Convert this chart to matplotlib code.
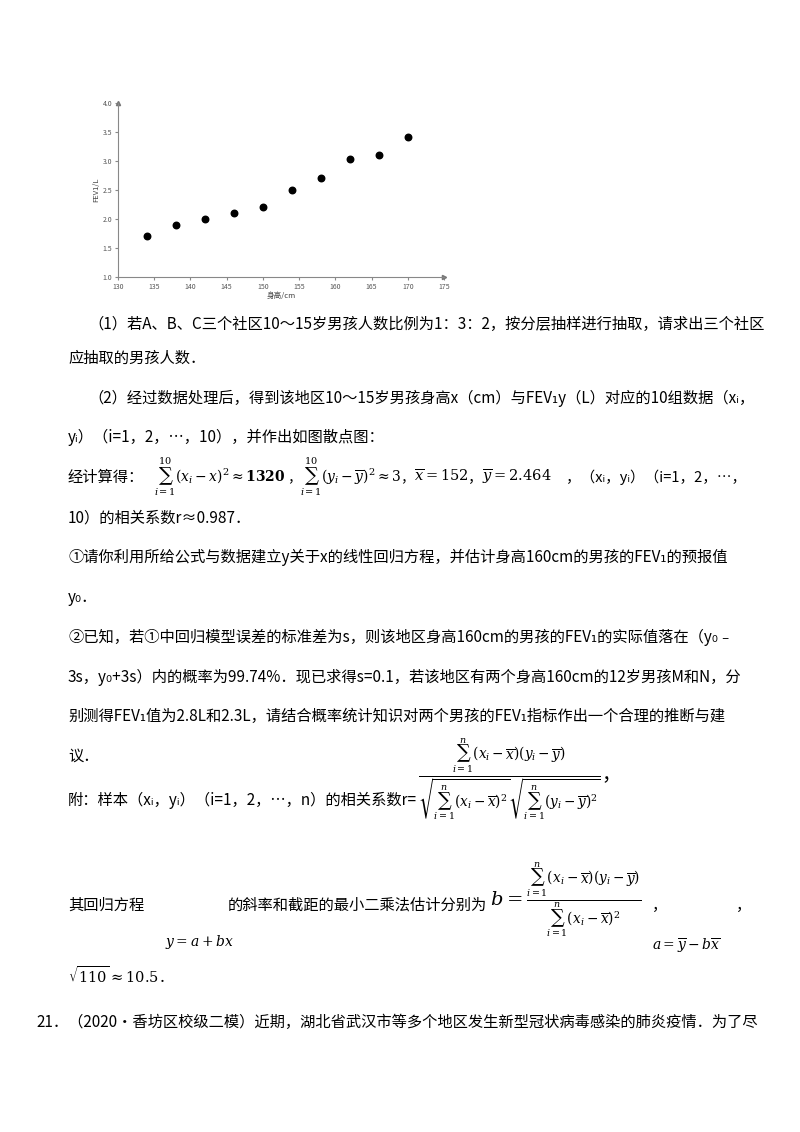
import matplotlib
matplotlib.use('Agg')
import matplotlib.pyplot as plt

plt.rcParams['font.family'] = ['Noto Sans CJK SC', 'DejaVu Sans']
plt.rcParams['mathtext.fontset'] = 'dejavuserif'

# 散点数据
heights = [134, 138, 142, 146, 150, 154, 158, 162, 166, 170]
fev1 = [1.7, 1.9, 2.0, 2.1, 2.2, 2.5, 2.7, 3.03, 3.1, 3.41]
x_ticks = [130, 135, 140, 145, 150, 155, 160, 165, 170, 175]
y_ticks = [1.0, 1.5, 2.0, 2.5, 3.0, 3.5, 4.0]

W, H = 800, 1132
fig = plt.figure(figsize=(W / 100, H / 100), dpi=100)
fig.patch.set_facecolor('white')

ax = fig.add_axes([118 / W, 1 - 277 / H, 326 / W, 174 / H])
ax.scatter(heights, fev1, s=22, color='black', zorder=3)
ax.set_xlim(130, 175)
ax.set_ylim(1.0, 4.0)
ax.set_xticks(x_ticks)
ax.set_yticks(y_ticks)
ax.set_xticklabels([str(v) for v in x_ticks], fontsize=5, color='#555555')
ax.set_yticklabels([f'{v:.1f}' for v in y_ticks], fontsize=5, color='#555555')
ax.tick_params(length=2, color='#888888', pad=2)
for s in ('top', 'right'):
    ax.spines[s].set_visible(False)
for s in ('left', 'bottom'):
    ax.spines[s].set_color('#888888')
ax.plot(1, 0, '>', color='#777777', ms=3, transform=ax.transAxes, clip_on=False)
ax.plot(0, 1, '^', color='#777777', ms=3, transform=ax.transAxes, clip_on=False)
ax.set_xlabel('身高/cm', fontsize=5.5, color='#444444', labelpad=1)
ax.set_ylabel('FEV1/L', fontsize=5.5, color='#444444', labelpad=2)

FS = 11


def t(x, y, s, size=FS, **kw):
    fig.text(x / W, 1 - y / H, s, fontsize=size, va='center', ha='left', **kw)


t(88, 324, '（1）若A、B、C三个社区10～15岁男孩人数比例为1：3：2，按分层抽样进行抽取，请求出三个社区')
t(68, 358, '应抽取的男孩人数．')
t(88, 398, '（2）经过数据处理后，得到该地区10～15岁男孩身高x（cm）与FEV₁y（L）对应的10组数据（xᵢ，')
t(68, 437, 'yᵢ）（i=1，2，…，10），并作出如图散点图：')
t(68, 477, '经计算得：')
t(154, 477, r'$\sum_{i=1}^{10}(x_i-x)^2\approx\mathbf{1320}$', size=10)
t(287, 477, '，', size=10)
t(300, 477, r'$\sum_{i=1}^{10}(y_i-\overline{y})^2\approx3$', size=10)
t(400, 477, '，', size=10)
t(414, 477, r'$\overline{x}=152$', size=10.5)
t(468, 477, '，', size=10.5)
t(482, 477, r'$\overline{y}=2.464$', size=10.5)
t(566, 477, '，（xᵢ，yᵢ）（i=1，2，…，', size=10.5)
t(68, 518, '10）的相关系数r≈0.987．')
t(68, 557, '①请你利用所给公式与数据建立y关于x的线性回归方程，并估计身高160cm的男孩的FEV₁的预报值')
t(68, 597, 'y₀．')
t(68, 637, '②已知，若①中回归模型误差的标准差为s，则该地区身高160cm的男孩的FEV₁的实际值落在（y₀﹣')
t(68, 677, '3s，y₀+3s）内的概率为99.74%．现已求得s=0.1，若该地区有两个身高160cm的12岁男孩M和N，分')
t(68, 716, '别测得FEV₁值为2.8L和2.3L，请结合概率统计知识对两个男孩的FEV₁指标作出一个合理的推断与建')
t(68, 756, '议．')
t(68, 800, '附：样本（xᵢ，yᵢ）（i=1，2，…，n）的相关系数r=')
t(418, 780, r'$\frac{\sum_{i=1}^{n}(x_i-\overline{x})(y_i-\overline{y})}'
            r'{\sqrt{\sum_{i=1}^{n}(x_i-\overline{x})^2}\sqrt{\sum_{i=1}^{n}(y_i-\overline{y})^2}}$，',
  size=14)
t(68, 905, '其回归方程')
t(228, 905, '的斜率和截距的最小二乘法估计分别为')
t(490, 900, r'$b=\frac{\sum_{i=1}^{n}(x_i-\overline{x})(y_i-\overline{y})}{\sum_{i=1}^{n}(x_i-\overline{x})^2}$',
  size=14)
t(652, 905, '，')
t(736, 905, '，')
t(165, 942, r'$y=a+bx$', size=10)
t(652, 946, r'$a=\overline{y}-b\overline{x}$', size=10)
t(68, 975, r'$\sqrt{110}\approx10.5$．', size=10.5)
t(36, 1022, '21．（2020•香坊区校级二模）近期，湖北省武汉市等多个地区发生新型冠状病毒感染的肺炎疫情．为了尽')

fig.savefig('out.png', dpi=100, facecolor='white')
